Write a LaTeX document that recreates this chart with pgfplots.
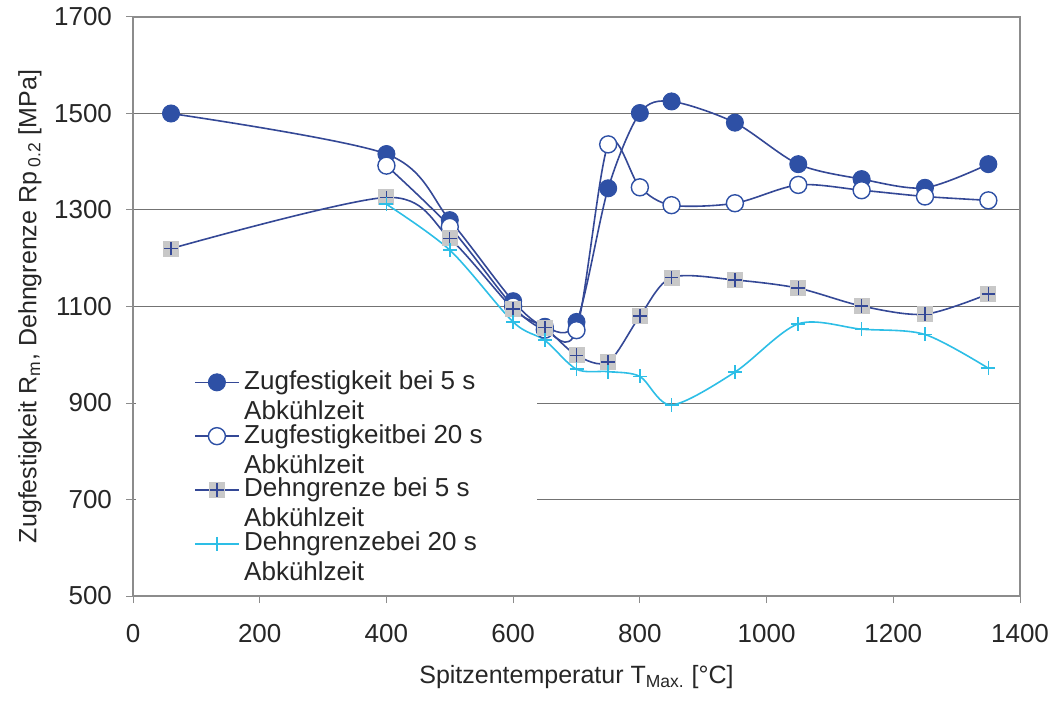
\documentclass[border=0pt]{standalone}
\usepackage{fontspec}
\setmainfont{Liberation Sans}
\usepackage{pgfplots}
\pgfplotsset{compat=1.18}

\definecolor{zbDark}{RGB}{46,80,165}
\definecolor{zbLine}{RGB}{52,72,150}
\definecolor{dgCyan}{RGB}{45,190,230}
\definecolor{sqGray}{RGB}{200,200,200}
\definecolor{gridGray}{RGB}{115,115,115}
\definecolor{axGray}{RGB}{140,140,140}

% grey square with a plus on top (Dehngrenze 5 s)
\pgfdeclareplotmark{sqplus}{%
  \pgfpathrectangle{\pgfpoint{-\pgfplotmarksize}{-\pgfplotmarksize}}{\pgfpoint{2\pgfplotmarksize}{2\pgfplotmarksize}}%
  \pgfsetfillcolor{sqGray}\pgfusepath{fill}%
  \pgfpathmoveto{\pgfpoint{-0.85\pgfplotmarksize}{0pt}}\pgfpathlineto{\pgfpoint{0.85\pgfplotmarksize}{0pt}}%
  \pgfpathmoveto{\pgfpoint{0pt}{-0.85\pgfplotmarksize}}\pgfpathlineto{\pgfpoint{0pt}{0.85\pgfplotmarksize}}%
  \pgfusepath{stroke}}

\begin{document}
\begin{tikzpicture}
\begin{axis}[
    scale only axis,
    width=443.5pt, height=289.5pt,
    xmin=0, xmax=1400, ymin=500, ymax=1700,
    xtick={0,200,...,1400}, ytick={500,700,...,1700},
    ymajorgrids=true,
    grid style={gridGray, line width=0.5pt},
    axis line style={axGray, line width=0.6pt},
    tick style={axGray, line width=0.5pt},
    tick align=outside, major tick length=3.5pt,
    xtick pos=bottom, ytick pos=left,
    /pgf/number format/assume math mode=true,
    /pgf/number format/1000 sep={},
    ticklabel style={font=\fontsize{13}{15}\selectfont, text=black!85},
    xticklabel style={yshift=-7pt},
    yticklabel style={xshift=-3.5pt},
    label style={font=\fontsize{12.5}{15}\selectfont, text=black!85},
    xlabel={Spitzentemperatur T\textsubscript{Max.} [°C]},
    ylabel={Zugfestigkeit R\textsubscript{m}, Dehngrenze Rp\,\textsubscript{0.2} [MPa]},
    xlabel style={at={(axis description cs:0.5,-0.140)}, anchor=center},
    ylabel style={at={(axis description cs:-0.1161,0.5)}, anchor=center},
    legend style={at={(axis description cs:0.0025,0.4076)}, anchor=north west,
        fill=white, draw=none, inner xsep=27pt, inner ysep=5pt,
        font=\fontsize{13}{13.5}\selectfont, text=black!85,
        nodes={inner sep=0pt},
        cells={anchor=base west, align=left}, row sep=1pt, column sep=2.5pt},
    legend cell align=left,
    legend image code/.code={%
        \path (0pt,7pt);
        \draw[mark repeat=2, mark phase=2, #1] plot coordinates {(2.5pt,7pt) (13.25pt,7pt) (24pt,7pt)};},
]
% Zugfestigkeit bei 5 s Abkuehlzeit
\addplot[smooth, zbLine, line width=0.8pt, mark=*, mark size=4.25pt,
    mark options={fill=zbDark, draw=zbDark, line width=0.5pt}]
    coordinates {(60,1500) (400,1416) (500,1279) (600,1111) (650,1058) (700,1068)
                 (750,1345) (800,1501) (850,1525) (950,1481) (1050,1395)
                 (1150,1364) (1250,1346) (1350,1395)};
\addlegendentry{Zugfestigkeit bei 5 s\\[1.5pt]Abkühlzeit}
% Zugfestigkeit bei 20 s Abkuehlzeit
\addplot[smooth, zbLine, line width=0.8pt, mark=*, mark size=4.25pt,
    mark options={fill=white, draw=zbDark, line width=0.7pt}]
    coordinates {(400,1392) (500,1265) (600,1100) (650,1052) (700,1051)
                 (750,1436) (800,1347) (850,1310) (950,1314) (1050,1352)
                 (1150,1341) (1250,1328) (1350,1320)};
\addlegendentry{Zugfestigkeitbei 20 s\\[1.5pt]Abkühlzeit}
% Dehngrenze bei 5 s Abkuehlzeit
\addplot[smooth, zbLine, line width=0.8pt, mark=sqplus, mark size=4pt,
    mark options={draw=zbLine, line width=0.7pt}]
    coordinates {(60,1220) (400,1326) (500,1241) (600,1095) (650,1056) (700,999)
                 (750,985) (800,1080) (850,1160) (950,1155) (1050,1138)
                 (1150,1101) (1250,1084) (1350,1126)};
\addlegendentry{Dehngrenze bei 5 s\\[1.5pt]Abkühlzeit}
% Dehngrenze bei 20 s Abkuehlzeit
\addplot[smooth, dgCyan, line width=0.8pt, mark=+, mark size=3.5pt,
    mark options={draw=dgCyan, line width=0.8pt}]
    coordinates {(400,1312) (500,1217) (600,1068) (650,1030) (700,970)
                 (750,965) (800,955) (850,896) (950,964) (1050,1064)
                 (1150,1053) (1250,1042) (1350,972)};
\addlegendentry{Dehngrenzebei 20 s\\[1.5pt]Abkühlzeit}
\end{axis}
\path (current axis.south west) ++(-66.5pt,-52.5pt);
\path (current axis.north east) ++(18.5pt,8.5pt);
\end{tikzpicture}
\end{document}
